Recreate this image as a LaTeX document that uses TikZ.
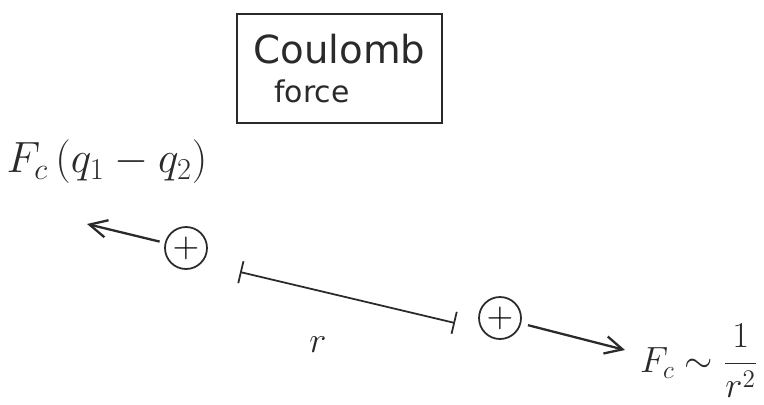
\documentclass[tikz,border=0pt]{standalone}
\usepackage{fontspec}
\setmainfont{DejaVu Sans}
\usepackage{amsmath}
\usetikzlibrary{arrows.meta,positioning}
\definecolor{ink}{HTML}{2A2A2A}
\tikzset{
  charge/.style={circle,draw=ink,line width=1pt,minimum size=0.84cm,inner sep=0pt},
  force/.style={-{Straight Barb[length=3.5mm,width=3.5mm]},draw=ink,line width=1.3pt},
  label/.style={text=ink,inner sep=1pt}
}

\begin{document}
\begin{tikzpicture}
    \useasboundingbox (0,0) rectangle (15.28,-8.08);
    % title box
    \node[draw=ink,line width=1.4pt,minimum width=4.1cm,minimum height=2.18cm,
          align=center,text=ink,font=\fontsize{22}{24}\selectfont] (title) at (6.79,-1.37)
      {Coulomb\\[-2pt]\hspace*{-1.1cm}{\fontsize{17}{19}\selectfont force}};
    % charges
    \node[charge,font=\huge] (qa) at (3.72,-4.96) {$+$};
    \node[charge,font=\huge] (qb) at (10.0,-6.36) {$+$};
    \coordinate (fa) at (1.74,-4.48);
    \coordinate (fb) at (12.5,-7.0);
    \draw[force,shorten <=3pt] (qa) -- (fa);
    \draw[force,shorten <=4pt] (qb) -- (fb);
    % distance
    \coordinate (ra) at (4.8,-5.44);
    \coordinate (rb) at (9.1,-6.46);
    \draw[{Bar[width=4.5mm]}-{Bar[width=4.5mm]},draw=ink,line width=1pt] (ra) -- (rb);
    \node[label,font=\fontsize{22}{24}\selectfont] (rlbl) at (6.36,-6.9) {$r$};
    % labels
    \node[label,font=\fontsize{24}{26}\selectfont] (lefttxt) at (2.14,-3.24) {$F_c\,(q_1-q_2)$};
    \node[label,font=\fontsize{20}{22}\selectfont] (righttxt) at (13.98,-7.22) {$F_c\sim\dfrac{1}{r^2}$};
  \end{tikzpicture}
\end{document}
